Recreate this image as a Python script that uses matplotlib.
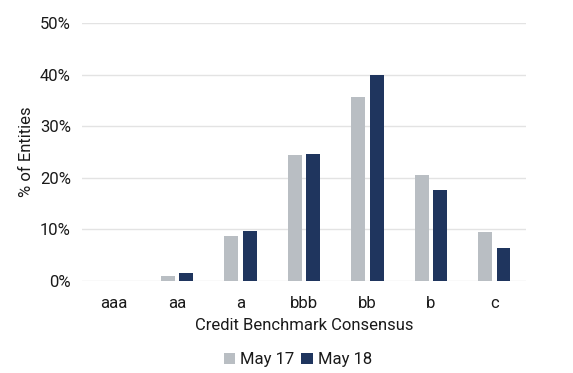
import numpy as np
import matplotlib.pyplot as plt
from matplotlib.ticker import FuncFormatter

# Dữ liệu
categories = ['aaa', 'aa', 'a', 'bbb', 'bb', 'b', 'c']
may17 = [0.0, 1.0, 8.7, 24.4, 35.7, 20.6, 9.4]
may18 = [0.0, 1.6, 9.7, 24.6, 39.9, 17.7, 6.4]

plt.rcParams['font.family'] = ['Roboto', 'DejaVu Sans']
fs = 12

fig = plt.figure(figsize=(5.73, 3.73), dpi=100)
ax = fig.add_axes([0.143, 0.247, 0.775, 0.691])

x = np.arange(len(categories))
w = 0.22
ax.bar(x - 0.145, may17, width=w, color='#B9BEC3', label='May 17', zorder=3)
ax.bar(x + 0.145, may18, width=w, color='#1F355E', label='May 18', zorder=3)

ax.set_ylim(0, 50)
ax.set_xlim(-0.5, len(categories) - 0.5)
ax.set_yticks(np.arange(0, 51, 10))
ax.yaxis.set_major_formatter(FuncFormatter(lambda v, p: f'{v:.0f}%'))
ax.set_xticks(x)
ax.set_xticklabels(categories)

ax.grid(axis='y', color='#E3E3E3', linewidth=1, zorder=0)
for s in ax.spines.values():
    s.set_visible(False)
ax.tick_params(length=0, labelsize=fs, colors='#1a1a1a', pad=8)
ax.tick_params(axis='x', pad=11)

ax.set_xlabel('Credit Benchmark Consensus', fontsize=fs, color='#1a1a1a', labelpad=5)
ax.set_ylabel('% of Entities', fontsize=fs, color='#1a1a1a', labelpad=4)

fig.legend(loc='center', bbox_to_anchor=(0.52, 0.035), ncol=2, frameon=False,
           fontsize=fs, handlelength=0.7, handleheight=0.7, handletextpad=0.3,
           columnspacing=0.4, labelcolor='#1a1a1a')

fig.savefig('out.png', dpi=100)
